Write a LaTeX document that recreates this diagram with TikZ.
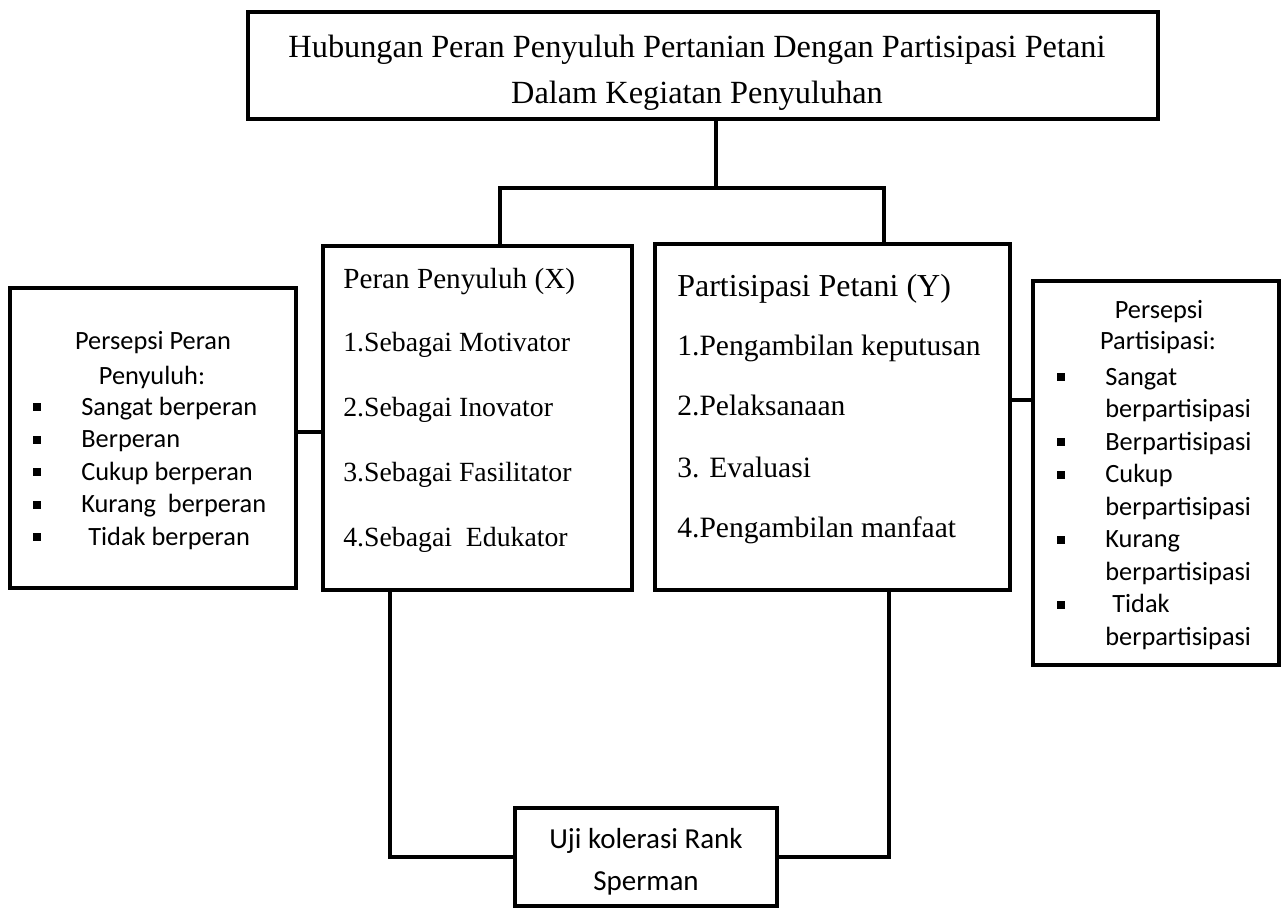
\documentclass[tikz,border=0pt]{standalone}
\usepackage{fontspec}
\setmainfont{Liberation Serif}
\newfontfamily\carlito{Carlito}
\tikzset{
  box/.style={draw, line width=2.2pt, inner sep=0pt},
  link/.style={line width=2.1pt},
  serifline/.style={anchor=base west, inner sep=0pt},
  sansline/.style={anchor=base west, inner sep=0pt, font=\carlito\fontsize{15}{18}\selectfont},
}
\begin{document}
\begin{tikzpicture}[x=0.02cm, y=-0.02cm]
    \useasboundingbox (0,0) rectangle (1283,910);
    % boxes
    \node[box, minimum width=18.2cm, minimum height=2.14cm] (title) at (703,65.5) {};
    \node[align=center, font=\fontsize{18.4}{26}\selectfont] (titletext) at (697,73)
        {Hubungan Peran Penyuluh Pertanian Dengan Partisipasi Petani\\Dalam Kegiatan Penyuluhan};
    \node[box, minimum width=6.18cm, minimum height=6.88cm] (xbox) at (477.5,418) {};
    \node[box, minimum width=7.1cm, minimum height=6.92cm] (ybox) at (832.5,417) {};
    \node[box, minimum width=5.72cm, minimum height=6cm] (persx) at (153,438) {};
    \node[box, minimum width=4.92cm, minimum height=7.68cm] (persy) at (1156,473) {};
    \node[box, minimum width=5.24cm, minimum height=1.96cm] (uji) at (646,857) {};
    % peran penyuluh (X)
    \node[serifline, font=\fontsize{16.6}{20}\selectfont] (xhead) at (343,288) {Peran Penyuluh (X)};
    \foreach \t/\yy [count=\k] in {1.Sebagai Motivator/351, 2.Sebagai Inovator/416,
            3.Sebagai Fasilitator/481, 4.Sebagai\ \ Edukator/546} {
    \node[serifline, font=\fontsize{15.8}{19}\selectfont] (xitem\k) at (343,\yy) {\t};
    }
    % partisipasi petani (Y)
    \node[serifline, font=\fontsize{18.2}{22}\selectfont] (yhead) at (677,296) {Partisipasi Petani (Y)};
    \foreach \t/\yy [count=\k] in {1.Pengambilan keputusan/355, 2.Pelaksanaan/415,
            3. Evaluasi/477, 4.Pengambilan manfaat/537} {
    \node[serifline, font=\fontsize{16.8}{20}\selectfont] (yitem\k) at (677,\yy) {\t};
    }
    % persepsi peran penyuluh
    \node[font=\carlito\fontsize{15}{18}\selectfont, inner sep=0pt] (pxhead1) at (153,343) {Persepsi Peran};
    \node[font=\carlito\fontsize{15}{18}\selectfont, inner sep=0pt] (pxhead2) at (152,377) {Penyuluh:};
    \foreach \t/\xx [count=\k] in {Sangat berperan/81, Berperan/81, Cukup berperan/81,
            Kurang\ \ berperan/81, Tidak berperan/88} {
    \fill (33,{407+32.5*(\k-1)-4}) rectangle ++(8,8);
    \node[sansline] (pxitem\k) at (\xx,{415+32.5*(\k-1)}) {\t};
    }
    % persepsi partisipasi
    \node[font=\carlito\fontsize{15}{18}\selectfont, inner sep=0pt] (pyhead1) at (1159,312) {Persepsi};
    \node[font=\carlito\fontsize{15}{18}\selectfont, inner sep=0pt] (pyhead2) at (1158,343) {Partisipasi:};
    \foreach \t/\xx [count=\k] in {Sangat/1105, berpartisipasi/1105, Berpartisipasi/1105,
            Cukup/1105, berpartisipasi/1105, Kurang/1105, berpartisipasi/1105,
            Tidak/1112, berpartisipasi/1105} {
    \node[sansline] (pyitem\k) at (\xx,{385+32.5*(\k-1)}) {\t};
    }
    \foreach \k in {1,3,4,6,8} {
    \fill (1057,{377+32.5*(\k-1)-4}) rectangle ++(8,8);
    }
    % uji
    \node[align=center, font=\carlito\fontsize{16.5}{23.8}\selectfont] (ujitext) at (646,862)
        {Uji kolerasi Rank\\Sperman};
    % connectors
    \coordinate (split) at (716,188);
    \coordinate (forkL) at (500,188);
    \coordinate (forkR) at (884,188);
    \draw[link] (title.south -| split) -- (split);
    \draw[link] (xbox.north -| forkL) -- (forkL) -- (forkR) -- (ybox.north -| forkR);
    \coordinate (xdrop) at (390,0);
    \coordinate (ydrop) at (889,0);
    \draw[link] (xbox.south -| xdrop) |- (uji.west);
    \draw[link] (ybox.south -| ydrop) |- (uji.east);
    \coordinate (lefttie) at (0,432);
    \coordinate (righttie) at (0,400);
    \draw[link] (persx.east |- lefttie) -- (xbox.west |- lefttie);
    \draw[link] (ybox.east |- righttie) -- (persy.west |- righttie);
\end{tikzpicture}
\end{document}
